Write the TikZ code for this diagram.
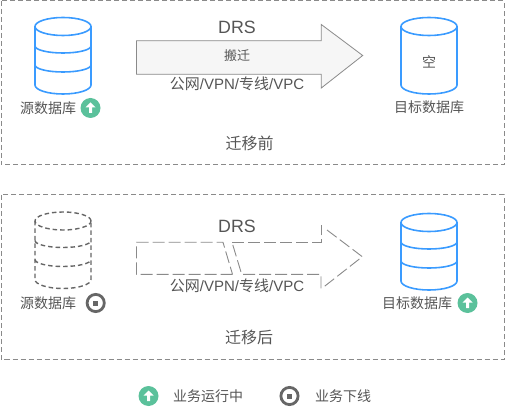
\documentclass[tikz,border=0pt]{standalone}
\usepackage{xcolor}
\usepackage{fontspec}
\setmainfont{Liberation Sans}
\newfontfamily\cjk{Noto Sans CJK SC}
\usepackage{tikz}
\usetikzlibrary{positioning}
\definecolor{txtgray}{HTML}{555555}
\definecolor{framegray}{HTML}{8A8A8A}
\definecolor{dbblue}{HTML}{3A9BFF}
\definecolor{rungreen}{HTML}{5BC19B}
\definecolor{offgray}{HTML}{666666}
\definecolor{arrowfill}{HTML}{F6F6F6}

\begin{document}
\begin{tikzpicture}[
  x=1pt, y=-1pt,
  every node/.style={font=\cjk\fontsize{14}{16}\selectfont, text=txtgray, inner sep=0pt, outer sep=0pt},
  frame/.style={draw=framegray, line width=1pt, dash pattern=on 5pt off 3pt},
  bigarrow/.style={draw=framegray, line width=0.8pt, fill=arrowfill, line join=miter},
  brokenarrow/.style={draw=framegray, line width=0.9pt, dash pattern=on 12pt off 4pt},
  liveline/.style={draw=dbblue, line width=1.6pt},
  downline/.style={draw=offgray, line width=1.4pt, dash pattern=on 4.5pt off 3pt},
  drs/.style={font=\fontsize{17.8}{20}\selectfont},
  route/.style={font=\fontsize{15}{17}\selectfont},
  stage/.style={font=\cjk\fontsize{16}{18}\selectfont},
  pics/dbshell/.style={code={
    \draw (0,0) ellipse[x radius=28pt, y radius=9pt];
    \draw (-28,0) -- (-28,58.5) arc[start angle=180, end angle=360, x radius=28pt, y radius=9pt] -- (28,0);
  }},
  pics/dbbands/.style={code={
    \draw (-28,19.5) arc[start angle=180, end angle=360, x radius=28pt, y radius=7pt];
    \draw (-28,38.5) arc[start angle=180, end angle=360, x radius=28pt, y radius=7pt];
  }},
  pics/runicon/.style={code={
    \fill[rungreen] (0,0) circle[radius=10pt];
    \fill[white] (0,-5.5) -- (5,-0.5) -- (1.5,-0.5) -- (1.5,5) -- (-1.5,5) -- (-1.5,-0.5) -- (-5,-0.5) -- cycle;
  }},
  pics/officon/.style={code={
    \draw[offgray, line width=2.8pt] (0,0) circle[radius=8.6pt];
    \fill[offgray] (-2.5,-2.5) rectangle (2.5,2.5);
  }}
]
\useasboundingbox (0,0) rectangle (505,411);

% before
\draw[frame] (1,1) rectangle (504,165);
\pic[liveline] at (63,26.5) {dbshell};
\pic[liveline] at (63,26.5) {dbbands};
\pic[liveline] at (429,26.5) {dbshell};
\node (srcA) at (48,108) {源数据库};
\pic at (90.5,108) {runicon};
\node (dstA) at (429,107) {目标数据库};
\node (empty) at (429,62) {空};
\draw[bigarrow] (136.5,40.7) -- (321.3,40.7) -- (321.3,24.5) -- (362.7,55.5) -- (321.3,88) -- (321.3,74.3) -- (136.5,74.3) -- cycle;
\node[drs] (drsA) at (237,27) {DRS};
\node[font=\cjk\fontsize{13}{15}\selectfont] (moveA) at (237,56) {搬迁};
\node[route] (routeA) at (237,84) {{\cjk 公网}/VPN/{\cjk 专线}/VPC};
\node[stage] (stageA) at (249.5,143) {迁移前};

% after
\draw[frame] (1,195) rectangle (504,359.5);
\pic[downline] at (63,221) {dbshell};
\pic[downline] at (63,221) {dbbands};
\pic[liveline] at (429,222.5) {dbshell};
\pic[liveline] at (429,222.5) {dbbands};
\node (srcB) at (48,303) {源数据库};
\pic at (95.7,303) {officon};
\node (dstB) at (417,303) {目标数据库};
\pic at (467.5,303) {runicon};
\draw[brokenarrow] (232.5,274.3) -- (136.5,274.3) -- (136.5,242.3) -- (223,242.3) -- (232.5,274.3);
\draw[brokenarrow] (232,242.3) -- (321,242.3) -- (321,225);
\draw[brokenarrow] (327,230) -- (362.3,256.7) -- (322,288.3);
\draw[brokenarrow] (321,288.3) -- (321,274.3) -- (241.7,274.3) -- (232,242.3);
\node[drs] (drsB) at (237,226) {DRS};
\node[route] (routeB) at (237,286) {{\cjk 公网}/VPN/{\cjk 专线}/VPC};
\node[stage] (stageB) at (249,337) {迁移后};

% legend
\pic at (148.5,396) {runicon};
\node (legendRun) at (208,396) {业务运行中};
\pic at (289.5,396) {officon};
\node (legendOff) at (343,396) {业务下线};
\end{tikzpicture}
\end{document}
